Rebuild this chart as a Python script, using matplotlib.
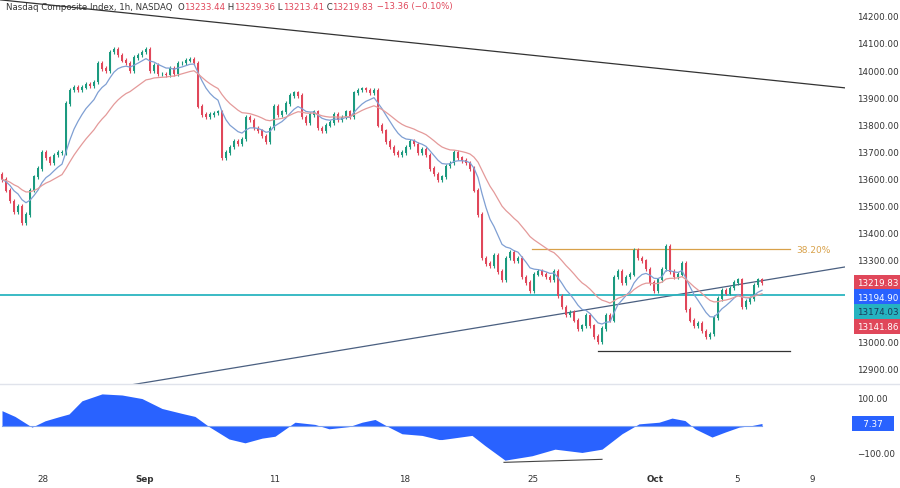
import matplotlib
matplotlib.use("Agg")
import matplotlib.pyplot as plt
import numpy as np
import pandas as pd

closes = [
13600,13560,13520,13480,13500, 13440,13470,13560,13610,13640,
13700,13680,13660,13690,13700, 13700,13880,13930,13940,13930,
13940,13950,13945,13960,14030, 14010,14000,14070,14080,14060,
14040,14030,14000,14050,14060, 14070,14080,14000,14020,13990,
13990,13985,14010,13990,14030, 14030,14040,14045,14030,13870,
13840,13830,13840,13845,13850, 13680,13700,13720,13740,13730,
13750,13830,13820,13790,13780, 13760,13740,13790,13870,13840,
13850,13880,13910,13920,13910, 13830,13810,13840,13850,13790,
13780,13800,13810,13840,13820, 13830,13850,13830,13920,13930,
13935,13930,13920,13930,13800, 13780,13740,13720,13700,13690,
13700,13720,13740,13730,13700, 13710,13690,13640,13620,13600,
13610,13650,13660,13700,13680, 13670,13660,13640,13560,13470,
13310,13290,13280,13320,13260, 13230,13310,13330,13300,13310,
13240,13220,13190,13250,13260, 13250,13240,13230,13260,13170,
13130,13100,13110,13080,13050, 13060,13100,13060,13020,13000,
13050,13100,13080,13240,13260, 13220,13240,13250,13340,13310,
13300,13270,13220,13190,13230, 13270,13355,13260,13240,13250,
13290,13120,13080,13060,13070, 13040,13020,13030,13090,13160,
13190,13180,13200,13220,13230, 13130,13150,13160,13210,13230,
13219.83]
first_open = 13620

osc_bars = [0,3.25,7.5,10.75,14.25,16.75,20,25,30,35,40,45,48.25,51.75,56.75,60.75,65,68.25,73.25,78.25,81.75,86.75,90,93.25,96.75,100,105,109.25,
            110,117.5,120.75,125.75,132.5,138.25,145,150,155,159.25,164.25,167.5,170.75,173.25,177.5,180.75,184.25,187.5,190]
osc_vals = [54,33,-6,17,32,42,90,115,111,98,62,44,33,-4,-49,-63,-46,-39,12,4,-12,-4,12,22,-6,-30,-36,-51,
            -51,-36,-73,-126,-110,-86,-98,-86,-30,6,12,27,18,-12,-42,-24,-6,0,7.37]

date_pos = [10.25,35.75,68.25,100.75,132.75,163.25,183.75,202.5]
date_labels = ["28","Sep","11","18","25","Oct","5","9"]
price_ticks = [12900,13000,13300,13400,13500,13600,13700,13800,13900,14000,14100,14200]

c = np.array(closes, dtype=float)
o = np.concatenate([[first_open], c[:-1]])
h = np.maximum(o, c) + 8
l = np.minimum(o, c) - 8
idx = np.arange(len(c))
ema_fast = pd.Series(c).ewm(span=9, adjust=False).mean().values
ema_slow = pd.Series(c).ewm(span=22, adjust=False).mean().values

GREEN, RED = "#1b9a7f", "#e0475a"
W, H = 900, 489
fig = plt.figure(figsize=(9, 4.89), dpi=100)
ax = fig.add_axes([0, 1-385/H, 845/W, 385/H])
ax2 = fig.add_axes([0, 24/H, 845/W, 80/H])
XL = (-0.5, 210.75)
for a in (ax, ax2):
    a.set_xlim(*XL)
    for s in a.spines.values():
        s.set_visible(False)
    a.set_xticks([]); a.set_yticks([])
ax.set_ylim(12845, 14266)
ax2.set_ylim(-140, 151)

cols = [GREEN if cc >= oo else RED for oo, cc in zip(o, c)]
ax.vlines(idx, l, h, colors=cols, lw=0.8, zorder=3)
ax.bar(idx, np.abs(c-o)+2, bottom=np.minimum(o, c)-1, width=0.65, color=cols, zorder=4)
ax.plot(idx, ema_fast, color="#7f9fd3", lw=0.9, zorder=5)
ax.plot(idx, ema_slow, color="#e49a9a", lw=0.9, zorder=5)

ax.plot([-0.5, 210.75], [14263, 13938], color="#333333", lw=0.9)
ax.plot([32, 210.75], [12841, 13277], color="#4a5f80", lw=0.9)
ax.axhline(13174.03, color="#2bb5c0", lw=1.3)
ax.plot([132.5, 197], [13343, 13343], color="#d8a14a", lw=0.9)
ax.text(198.5, 13343, "38.20%", color="#d8a14a", fontsize=6.5, va="center")
ax.plot([149, 197], [12966, 12966], color="#333333", lw=0.9)

fig.add_artist(plt.Line2D([0, 1], [1-385/H, 1-385/H], color="#e0e3eb", lw=1))

FS = 6.3
for p in price_ticks:
    ax.text(1.0+12/845, p, f"{p:.2f}", transform=ax.get_yaxis_transform(), fontsize=FS, color="#333333", va="center")
tags = [(13219.83, RED, "#ffffff", 13221), (13194.90, "#2962ff", "#ffffff", 13166), (13174.03, "#26b3c0", "#1b3a5a", 13111), (13141.86, RED, "#ffffff", 13058)]
for v, bg, fg, yp in tags:
    ax.text(1.0+12/845, yp, f"{v:.2f}", transform=ax.get_yaxis_transform(), fontsize=FS, color=fg, va="center",
            bbox=dict(boxstyle="square,pad=0.35", fc=bg, ec="none"), clip_on=False)

ox = np.array(osc_bars); ov = np.array(osc_vals)
ax2.fill_between(ox, 0, ov, color="#2962ff", lw=0)
ax2.plot([0, 190], [0, 0], color="#7ea2f0", lw=0.8)
ax2.plot([125.5, 150], [-134, -123], color="#444444", lw=0.8)
for p, t in [(100, "100.00"), (-100, "\u2212100.00")]:
    ax2.text(1.0+12/845, p, t, transform=ax2.get_yaxis_transform(), fontsize=FS, color="#333333", va="center")
ax2.text(1.0+10/845, 7.37, "   7.37   ", transform=ax2.get_yaxis_transform(), fontsize=FS, color="white", va="center",
         bbox=dict(boxstyle="square,pad=0.35", fc="#2962ff", ec="none"))

for p, t in zip(date_pos, date_labels):
    x = (p - XL[0]) / (XL[1]-XL[0]) * 845 / W
    fig.text(x, 1-480/H, t, fontsize=FS, color="#333333", ha="center", va="center",
             fontweight="bold" if t in ("Sep", "Oct") else "normal")

HF = 6.2
fig.text(6/W, 1-7/H, "Nasdaq Composite Index, 1h, NASDAQ", fontsize=HF, color="#333333", va="center")
parts = [("O", "#333333"), ("13233.44", RED), (" H", "#333333"), ("13239.36", RED), (" L", "#333333"), ("13213.41", RED),
         (" C", "#333333"), ("13219.83", RED), (" \u221213.36 (\u22120.10%)", RED)]
xs = 177/W
r = fig.canvas.get_renderer()
for t, col in parts:
    tx = fig.text(xs, 1-7/H, t, fontsize=HF, color=col, va="center")
    xs += tx.get_window_extent(r).width / W

fig.savefig("out.png", dpi=100, facecolor="white")
